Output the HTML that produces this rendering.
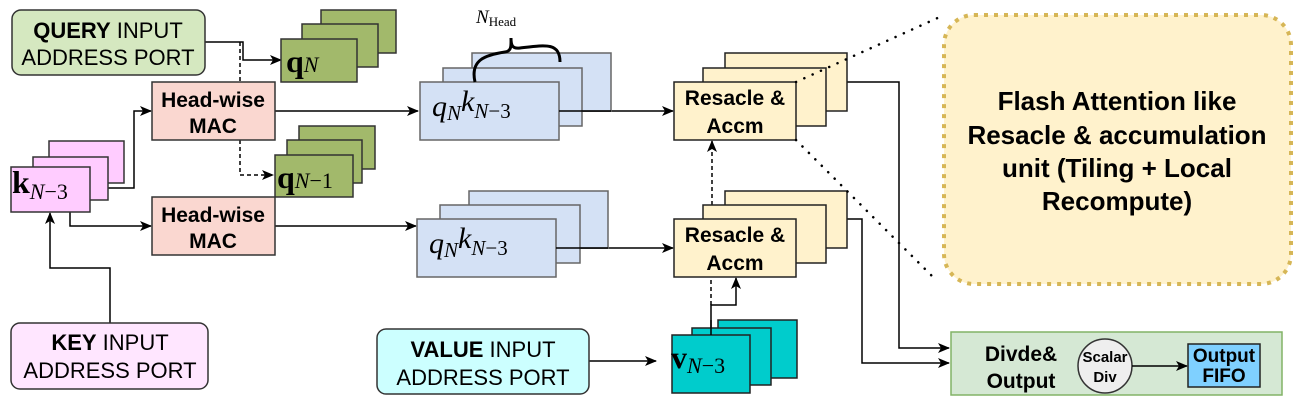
<!DOCTYPE html>
<html><head><meta charset="utf-8"><style>
html,body{margin:0;padding:0;background:#fff;}
svg{display:block;}
.s{font-family:"Liberation Sans",sans-serif;}
.r{font-family:"Liberation Serif",serif;}
.m{font-family:"Liberation Serif",serif;font-style:italic;}
.b{font-weight:bold;}
</style></head><body>
<svg width="1302" height="408" viewBox="0 0 1302 408" xmlns="http://www.w3.org/2000/svg">
<defs>
<marker id="a" markerWidth="12" markerHeight="10" refX="11" refY="5" orient="auto" markerUnits="userSpaceOnUse">
<path d="M0,0 L12,5 L0,10 L3,5 Z" fill="#000"/></marker>
</defs>
<g stroke="#000" stroke-width="1.5" fill="none">
<polyline points="205,42 243,42 243,60 281,60" marker-end="url(#a)"/>
<polyline points="240,42 240,175 273,175" stroke-dasharray="4,3" marker-end="url(#a)"/>
<polyline points="90,188 134,188 134,111 151,111" marker-end="url(#a)"/>
<polyline points="70,212 70,226 151,226" marker-end="url(#a)"/>
<polyline points="110,323 110,268 50,268 50,213" marker-end="url(#a)"/>
<line x1="275" y1="111" x2="418" y2="111" marker-end="url(#a)"/>
<line x1="275" y1="226" x2="416" y2="226" marker-end="url(#a)"/>
<line x1="559" y1="111" x2="673" y2="111" marker-end="url(#a)"/>
<line x1="556" y1="248" x2="673" y2="248" marker-end="url(#a)"/>
<polyline points="847,82 899,82 899,348 949,348" marker-end="url(#a)"/>
<polyline points="847,219 862,219 862,363 949,363" marker-end="url(#a)"/>
<line x1="589" y1="361" x2="656" y2="361" marker-end="url(#a)"/>
<polyline points="711,335 711,305 736,305 736,278" marker-end="url(#a)"/>
<line x1="711" y1="305" x2="711" y2="277" stroke-dasharray="4,3"/>
<line x1="712" y1="205" x2="712" y2="141" stroke-dasharray="4,3" marker-end="url(#a)"/>
</g>

<g stroke="#333" stroke-width="1.5">
<rect x="12" y="10" width="193" height="65" rx="9" fill="#d5e8c0"/>
<rect x="11" y="323" width="197" height="66" rx="9" fill="#ffe6ff"/>
<rect x="377" y="329" width="212" height="65" rx="9" fill="#ccffff"/>
<rect x="321" y="10" width="75" height="43" fill="#a2b96b"/>
<rect x="302" y="24" width="76" height="43" fill="#a2b96b"/>
<rect x="281" y="39" width="76" height="43" fill="#a2b96b"/>
<rect x="299" y="126" width="76" height="43" fill="#a2b96b"/>
<rect x="287" y="140" width="75" height="43" fill="#a2b96b"/>
<rect x="275" y="155" width="78" height="42" fill="#a2b96b"/>
<rect x="49" y="141" width="75" height="42" fill="#ffccff"/>
<rect x="33" y="157" width="75" height="43" fill="#ffccff"/>
<rect x="11" y="167" width="79" height="45" fill="#ffccff"/>
<rect x="152" y="82" width="123" height="58" fill="#fad7d0"/>
<rect x="152" y="197" width="123" height="58" fill="#fad7d0"/>
</g>
<g stroke="#666" stroke-width="1.5" fill="#d4e1f5">
<rect x="472" y="53" width="139" height="58"/>
<rect x="443" y="68" width="139" height="58"/>
<rect x="420" y="82" width="139" height="58"/>
<rect x="469" y="191" width="139" height="57"/>
<rect x="440" y="205" width="140" height="58"/>
<rect x="417" y="219" width="139" height="58"/>
</g>
<line x1="559" y1="111" x2="611" y2="111" stroke="#000" stroke-width="1.5"/>
<line x1="556" y1="248" x2="608" y2="248" stroke="#000" stroke-width="1.5"/>
<g stroke="#222" stroke-width="1.5" fill="#fff2cc">
<rect x="725" y="53" width="122" height="58"/>
<rect x="703" y="68" width="123" height="58"/>
<rect x="674" y="82" width="122" height="58"/>
<rect x="725" y="191" width="122" height="57"/>
<rect x="703" y="205" width="123" height="58"/>
<rect x="674" y="219" width="122" height="58"/>
</g>
<g stroke="#222" stroke-width="1.5" fill="#00cccc">
<rect x="718" y="320" width="79" height="58"/>
<rect x="692" y="328" width="79" height="57"/>
<rect x="672" y="335" width="78" height="58"/>
</g>
<line x1="711" y1="335" x2="711" y2="320" stroke="#000" stroke-width="1.5"/>

<rect x="944" y="15" width="347" height="269" rx="30" fill="#fff2cc" stroke="#d6b656" stroke-width="4" stroke-dasharray="4,6"/>
<g stroke="#000" stroke-width="2.5" stroke-dasharray="0.1,9" stroke-linecap="round" fill="none">
<line x1="796" y1="82" x2="942" y2="16"/>
<line x1="796" y1="140" x2="936" y2="280"/>
</g>

<rect x="951" y="332" width="331" height="63" fill="#d5e8d4" stroke="#82b366" stroke-width="1.5"/>
<circle cx="1105" cy="366" r="27" fill="#eeeeee" stroke="#333" stroke-width="1.5"/>
<line x1="1132" y1="366" x2="1187" y2="366" stroke="#000" stroke-width="1.5" marker-end="url(#a)"/>
<rect x="1188" y="344" width="72" height="43" fill="#7fd0ff" stroke="#222" stroke-width="1.5"/>

<path d="M475,82 C470,60 485,55 505,52 C512,51 511,45 511,38 C511,45 512,49 520,48 C545,45 560,42 560,62" stroke="#000" stroke-width="3" fill="none"/>

<g class="s" font-size="22" text-anchor="middle" fill="#000">
<text x="108" y="38"><tspan font-weight="bold">QUERY</tspan> INPUT</text>
<text x="108" y="65">ADDRESS PORT</text>
<text x="110" y="350"><tspan font-weight="bold">KEY</tspan> INPUT</text>
<text x="110" y="378">ADDRESS PORT</text>
<text x="483" y="357"><tspan font-weight="bold">VALUE</tspan> INPUT</text>
<text x="483" y="385">ADDRESS PORT</text>
</g>
<g class="s" font-size="21" text-anchor="middle" font-weight="bold">
<text x="213" y="107">Head-wise</text>
<text x="213" y="133">MAC</text>
<text x="213" y="222">Head-wise</text>
<text x="213" y="248">MAC</text>
<text x="735" y="105">Resacle &amp;</text>
<text x="735" y="133">Accm</text>
<text x="735" y="242">Resacle &amp;</text>
<text x="735" y="270">Accm</text>
<text x="1021" y="361">Divde&amp;</text>
<text x="1021" y="388">Output</text>
</g>
<g class="s" font-size="26" font-weight="bold" text-anchor="middle">
<text x="1117" y="110">Flash Attention like</text>
<text x="1117" y="144">Resacle &amp; accumulation</text>
<text x="1117" y="177">unit (Tiling + Local</text>
<text x="1117" y="210">Recompute)</text>
</g>
<g class="s" font-size="15" text-anchor="middle" font-weight="bold">
<text x="1105" y="362">Scalar</text>
<text x="1105" y="382">Div</text>
<text x="1224" y="362" font-size="19">Output</text>
<text x="1224" y="382" font-size="19">FIFO</text>
</g>
<text x="286" y="72" class="r" font-weight="bold" font-size="32">q<tspan class="m" font-weight="normal" font-size="22">N</tspan></text>
<text x="277" y="188" class="r" font-weight="bold" font-size="32">q<tspan class="m" font-weight="normal" font-size="22">N</tspan><tspan font-weight="normal" font-size="22">−1</tspan></text>
<text x="12" y="193" class="r" font-weight="bold" font-size="32">k<tspan class="m" font-weight="normal" font-size="22" dy="6">N</tspan><tspan font-weight="normal" font-size="22">−3</tspan></text>
<text x="671" y="368" class="r" font-weight="bold" font-size="32">v<tspan class="m" font-weight="normal" font-size="22" dy="5">N</tspan><tspan font-weight="normal" font-size="22">−3</tspan></text>
<text x="432" y="116" class="m" font-size="30">q<tspan font-size="21" dy="4">N</tspan><tspan dy="-9">k</tspan><tspan font-size="21" dy="7">N</tspan><tspan font-size="21" font-style="normal">−3</tspan></text>
<text x="429" y="253" class="m" font-size="30">q<tspan font-size="21" dy="4">N</tspan><tspan dy="-9">k</tspan><tspan font-size="21" dy="7">N</tspan><tspan font-size="21" font-style="normal">−3</tspan></text>
<text x="476" y="23" class="m" font-size="19">N<tspan font-style="normal" font-size="13" dy="3">Head</tspan></text>
</svg>
</body></html>
